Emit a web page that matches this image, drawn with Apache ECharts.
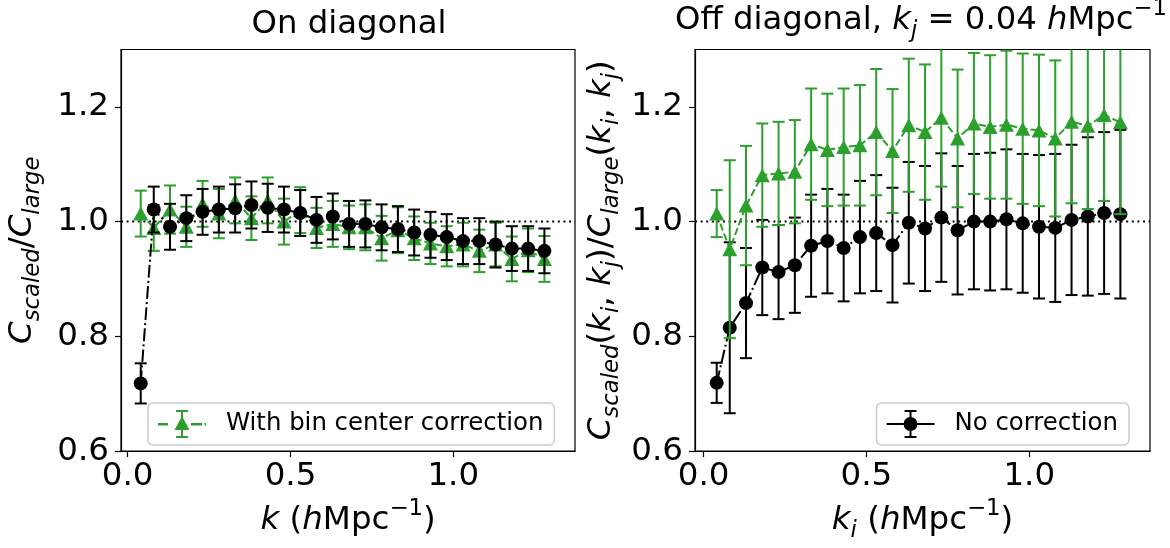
<!DOCTYPE html>
<html>
<head>
<meta charset="utf-8">
<script src="https://cdn.jsdelivr.net/npm/echarts@6/dist/echarts.min.js"></script>
<style>
  html, body { margin: 0; padding: 0; background: #fff; }
  #chart { width: 1170px; height: 548px; }
</style>
</head>
<body>
<div id="chart"></div>
<script>
// ---- data ----
const kValues = [0.04, 0.08, 0.13, 0.18, 0.23, 0.28, 0.33, 0.38, 0.43, 0.48, 0.53, 0.58, 0.63,
                 0.68, 0.73, 0.78, 0.83, 0.88, 0.93, 0.98, 1.03, 1.08, 1.13, 1.18, 1.23, 1.28];

// On diagonal
const diagNoCorr    = [0.718, 1.021, 0.991, 1.006, 1.017, 1.021, 1.023, 1.029, 1.024, 1.021, 1.015, 1.003, 1.009,
                       0.996, 0.996, 0.990, 0.987, 0.981, 0.977, 0.973, 0.966, 0.966, 0.960, 0.953, 0.953, 0.949];
const diagNoCorrErr = [0.035, 0.040, 0.040, 0.040, 0.040, 0.040, 0.042, 0.041, 0.042, 0.040, 0.040, 0.040, 0.040,
                       0.040, 0.041, 0.040, 0.040, 0.040, 0.040, 0.040, 0.040, 0.040, 0.040, 0.039, 0.039, 0.039];
const diagCorr      = [1.014, 0.989, 1.021, 0.991, 1.031, 1.014, 1.037, 1.006, 1.037, 1.000, 1.020, 0.989, 0.996,
                       0.990, 0.990, 0.971, 0.985, 0.971, 0.962, 0.957, 0.960, 0.949, 0.960, 0.935, 0.950, 0.935];
const diagCorrErr   = [0.040, 0.040, 0.042, 0.035, 0.040, 0.043, 0.040, 0.038, 0.040, 0.040, 0.040, 0.035, 0.040,
                       0.038, 0.040, 0.039, 0.040, 0.038, 0.036, 0.035, 0.038, 0.037, 0.038, 0.039, 0.038, 0.040];

// Off diagonal, k_j = 0.04
const offNoCorr     = [0.719, 0.815, 0.858, 0.920, 0.912, 0.924, 0.958, 0.966, 0.954, 0.973, 0.980, 0.959, 0.998,
                       0.988, 1.007, 0.985, 1.000, 1.000, 1.004, 0.997, 0.991, 0.989, 1.003, 1.009, 1.015, 1.013];
const offNoCorrErr  = [0.035, 0.149, 0.096, 0.083, 0.082, 0.083, 0.089, 0.091, 0.093, 0.098, 0.101, 0.100, 0.106,
                       0.109, 0.112, 0.112, 0.118, 0.120, 0.122, 0.121, 0.125, 0.129, 0.131, 0.138, 0.141, 0.147];
const offCorr       = [1.014, 0.952, 1.028, 1.081, 1.084, 1.087, 1.135, 1.125, 1.130, 1.133, 1.156, 1.123, 1.168,
                       1.156, 1.181, 1.145, 1.171, 1.165, 1.169, 1.162, 1.159, 1.145, 1.174, 1.167, 1.186, 1.173];
const offCorrErr    = [0.041, 0.155, 0.104, 0.090, 0.090, 0.090, 0.097, 0.098, 0.102, 0.105, 0.110, 0.108, 0.116,
                       0.118, 0.120, 0.120, 0.123, 0.125, 0.129, 0.131, 0.132, 0.136, 0.142, 0.145, 0.150, 0.160];

const xTicks = [0.0, 0.5, 1.0];
const yTicks = [0.6, 0.8, 1.0, 1.2];
const refLevel = 1.0;
const nameCorr = 'With bin center correction';
const nameNoCorr = 'No correction';

// ---- styling ----
const FF = "'DejaVu Sans', sans-serif";
const GREEN = '#2ca02c';
const BLACK = '#000000';
const F = 32.5;
const FS = 22.75;
const FT = 32.3;
const leftX = [-0.0206, 1.374];
const rightX = [-0.0267, 1.371];

function makeRich(f, fs) {
  return {
    n:   { fontSize: f, fontFamily: FF, color: '#000', verticalAlign: 'bottom', lineHeight: Math.round(f * 1.2), padding: [0, 0, 6, 0] },
    it:  { fontSize: f, fontFamily: FF, color: '#000', fontStyle: 'italic', verticalAlign: 'bottom', lineHeight: Math.round(f * 1.2), padding: [0, 0, 6, 0] },
    sub: { fontSize: fs, fontFamily: FF, color: '#000', fontStyle: 'italic', verticalAlign: 'bottom', lineHeight: Math.round(fs * 1.2) },
    sup: { fontSize: fs, fontFamily: FF, color: '#000', verticalAlign: 'bottom', lineHeight: Math.round(fs * 1.2), padding: [0, 0, Math.round(f * 0.68), 0] }
  };
}
const rich = makeRich(F, FS);
const richTitle = makeRich(FT, FT * 0.7);

function pairs(xs, ys) { return xs.map((x, i) => [x, ys[i]]); }
function bars(xs, ys, es) { return xs.map((x, i) => [x, ys[i] - es[i], ys[i] + es[i]]); }

function errRender(color) {
  const capW = 12;
  return function (params, api) {
    const x = api.value(0), lo = api.value(1), hi = api.value(2);
    const a = api.coord([x, hi]), b = api.coord([x, lo]);
    const cs = params.coordSys;
    const yTop = Math.max(a[1], cs.y), yBot = Math.min(b[1], cs.y + cs.height);
    const st = () => ({ stroke: color, lineWidth: 2, fill: null });
    const ch = [{ type: 'line', shape: { x1: a[0], y1: yTop, x2: a[0], y2: yBot }, style: st() }];
    if (a[1] >= cs.y) ch.push({ type: 'line', shape: { x1: a[0] - capW / 2, y1: a[1], x2: a[0] + capW / 2, y2: a[1] }, style: st() });
    if (b[1] <= cs.y + cs.height) ch.push({ type: 'line', shape: { x1: b[0] - capW / 2, y1: b[1], x2: b[0] + capW / 2, y2: b[1] }, style: st() });
    return { type: 'group', children: ch };
  };
}

function xAxisCfg(idx, ext, nameRich) {
  return {
    type: 'value', gridIndex: idx, min: ext[0], max: ext[1],
    axisLine: { show: true, onZero: false, lineStyle: { color: '#000', width: 1.2 } },
    axisTick: { show: true, inside: false, length: 6, lineStyle: { color: '#000', width: 1.2 }, customValues: xTicks },
    axisLabel: { customValues: xTicks, formatter: v => v.toFixed(1), fontSize: F, color: '#000', fontFamily: FF, margin: 9 },
    splitLine: { show: false },
    name: nameRich, nameLocation: 'middle', nameGap: 48,
    nameTextStyle: { rich: rich, fontSize: F, fontFamily: FF, color: '#000' }
  };
}
function yAxisCfg(idx, nameRich, gap) {
  return {
    type: 'value', gridIndex: idx, min: 0.6, max: 1.3,
    axisLine: { show: true, onZero: false, lineStyle: { color: '#000', width: 1.2 } },
    axisTick: { show: true, inside: false, length: 6, lineStyle: { color: '#000', width: 1.2 }, customValues: yTicks },
    axisLabel: { customValues: yTicks, formatter: v => v.toFixed(1), fontSize: F, color: '#000', fontFamily: FF, margin: 12 },
    splitLine: { show: false },
    name: nameRich, nameLocation: 'middle', nameGap: gap, nameRotate: 90,
    nameTextStyle: { rich: rich, fontSize: F, fontFamily: FF, color: '#000' }
  };
}

function refSeries(idx, ext) {
  return {
    type: 'line', xAxisIndex: idx, yAxisIndex: idx, z: 1, silent: true,
    data: [[ext[0], refLevel], [ext[1], refLevel]], symbol: 'none',
    lineStyle: { color: '#000', width: 2, type: [2, 3.6] }
  };
}
function errSeries(idx, xs, ys, es, color, z) {
  return {
    type: 'custom', xAxisIndex: idx, yAxisIndex: idx, z: z, silent: true,
    renderItem: errRender(color), data: bars(xs, ys, es), encode: { x: 0, y: [1, 2] }
  };
}
function markerSeries(idx, name, xs, ys, color, symbol, size, dash, z) {
  return {
    type: 'line', name: name, xAxisIndex: idx, yAxisIndex: idx, z: z, silent: true,
    data: pairs(xs, ys), symbol: symbol, symbolSize: size, showSymbol: true,
    itemStyle: { color: color, borderWidth: 0 },
    lineStyle: { color: color, width: 2, type: dash }
  };
}

const greenIcon = 'path://M0 13h10v2.4h-10Z M33 13h11v2.4h-11Z M46.5 13h1.5v2.4h-1.5Z M24 6L31.5 20L16.5 20Z M23 1h2v26h-2Z M18 0h12v2h-12Z M18 26h12v2h-12Z';
const blackIcon = 'path://M0 13h48v2h-48Z M17 14A7 7 0 1 1 31 14A7 7 0 1 1 17 14Z M23 1h2v26h-2Z M18 0h12v2h-12Z M18 26h12v2h-12Z';

const DASHED = [7.4, 3.2];
const DASHDOT = [12.8, 3.2, 2, 3.2];

const option = {
  animation: false,
  backgroundColor: '#fff',
  title: [
    { text: 'On diagonal', left: 344, top: 4, textAlign: 'center',
      textStyle: { fontSize: FT, fontWeight: 'normal', fontFamily: FF, color: '#000' } },
    { text: '{n|Off diagonal, }{it|k}{sub|j}{n| = 0.04 }{it|h}{n|Mpc}{sup|−1}', left: 916, top: -1, textAlign: 'center',
      textStyle: { fontSize: FT, fontWeight: 'normal', fontFamily: FF, color: '#000', rich: richTitle } }
  ],
  grid: [
    { left: 121, top: 49.5, width: 454, height: 409.5, show: true, borderColor: '#000', borderWidth: 1.2, backgroundColor: 'transparent', containLabel: false },
    { left: 695, top: 49.5, width: 455, height: 409.5, show: true, borderColor: '#000', borderWidth: 1.2, backgroundColor: 'transparent', containLabel: false }
  ],
  xAxis: [
    xAxisCfg(0, leftX, '{it|k}{n| (}{it|h}{n|Mpc}{sup|−1}{n|)}'),
    xAxisCfg(1, rightX, '{it|k}{sub|i}{n| (}{it|h}{n|Mpc}{sup|−1}{n|)}')
  ],
  yAxis: [
    yAxisCfg(0, '{it|C}{sub|scaled}{n|/}{it|C}{sub|large}', 76),
    yAxisCfg(1, '{it|C}{sub|scaled}{n|(}{it|k}{sub|i}{n|, }{it|k}{sub|j}{n|)/}{it|C}{sub|large}{n|(}{it|k}{sub|i}{n|, }{it|k}{sub|j}{n|)}', 71)
  ],
  legend: [
    { data: [{ name: nameCorr, icon: greenIcon }], left: 148, top: 403, itemWidth: 48, itemHeight: 28,
      padding: [7, 11, 7, 10], borderColor: '#cccccc', borderWidth: 1.5, borderRadius: 5, backgroundColor: '#fff',
      selectedMode: false, textStyle: { fontSize: 24.4, color: '#000', fontFamily: FF, padding: [0, 0, 0, 15] } },
    { data: [{ name: nameNoCorr, icon: blackIcon }], right: 41, top: 403, itemWidth: 48, itemHeight: 28,
      padding: [7, 11, 7, 10], borderColor: '#cccccc', borderWidth: 1.5, borderRadius: 5, backgroundColor: '#fff',
      selectedMode: false, textStyle: { fontSize: 24.4, color: '#000', fontFamily: FF, padding: [0, 0, 0, 15] } }
  ],
  series: [
    // left panel: green below black
    refSeries(0, leftX),
    errSeries(0, kValues, diagCorr, diagCorrErr, GREEN, 2),
    markerSeries(0, nameCorr, kValues, diagCorr, GREEN, 'triangle', [15, 14], DASHED, 3),
    errSeries(0, kValues, diagNoCorr, diagNoCorrErr, BLACK, 4),
    markerSeries(0, nameNoCorr, kValues, diagNoCorr, BLACK, 'circle', 14, DASHDOT, 5),
    // right panel: black below green
    refSeries(1, rightX),
    errSeries(1, kValues, offNoCorr, offNoCorrErr, BLACK, 2),
    markerSeries(1, nameNoCorr, kValues, offNoCorr, BLACK, 'circle', 14, DASHDOT, 3),
    errSeries(1, kValues, offCorr, offCorrErr, GREEN, 4),
    markerSeries(1, nameCorr, kValues, offCorr, GREEN, 'triangle', [15, 14], DASHED, 5)
  ]
};

const chart = echarts.init(document.getElementById('chart'), null, { renderer: 'canvas' });
chart.setOption(option);
</script>
</body>
</html>
